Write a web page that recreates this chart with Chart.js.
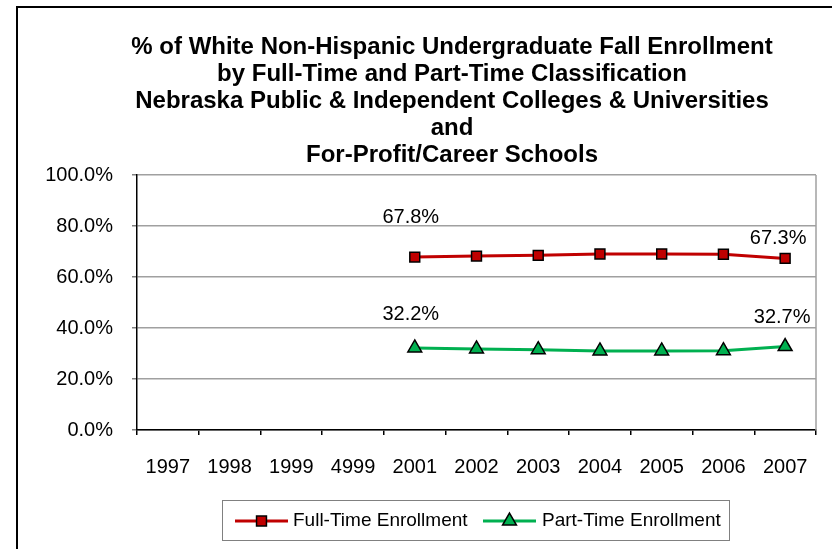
<!DOCTYPE html>
<html>
<head>
<meta charset="utf-8">
<script src="https://cdn.jsdelivr.net/npm/chart.js@4.4.0/dist/chart.umd.min.js"></script>
<style>
  html, body { margin: 0; padding: 0; background: #fff; overflow: hidden; }
  #wrap { position: relative; width: 832px; height: 549px; }
  #frame { position: absolute; left: 16px; top: 6px; width: 830px; height: 560px;
           border-left: 2px solid #000; border-top: 2px solid #000; }
  canvas { position: absolute; left: 0; top: 0; }
</style>
</head>
<body>
<div id="wrap">
  <div id="frame"></div>
  <canvas id="chart" width="832" height="549"></canvas>
</div>
<script>
const years = ['1997', '1998', '1999', '4999', '2001', '2002', '2003', '2004', '2005', '2006', '2007'];
const fullTime = [null, null, null, null, 67.8, 68.2, 68.5, 69.0, 69.0, 68.9, 67.3];
const partTime = [null, null, null, null, 32.2, 31.8, 31.5, 31.0, 31.0, 31.1, 32.7];
const yTicks = [0, 20, 40, 60, 80, 100];
const titleLines = [
  '% of White Non-Hispanic Undergraduate Fall Enrollment',
  'by Full-Time and Part-Time Classification',
  'Nebraska Public & Independent Colleges & Universities',
  'and',
  'For-Profit/Career Schools'
];
const seriesNames = ['Full-Time Enrollment', 'Part-Time Enrollment'];

const FONT = '"Liberation Sans", Arial, sans-serif';
const RED = '#c00000';
const GREEN = '#00b050';

// title, plot frame, end labels and legend
const extras = {
  id: 'extras',
  afterDraw(chart) {
    const ctx = chart.ctx;
    const area = chart.chartArea;
    ctx.save();

    // right border of plot area
    ctx.strokeStyle = '#a0a0a0';
    ctx.lineWidth = 1.5;
    ctx.beginPath();
    ctx.moveTo(area.right, area.top);
    ctx.lineTo(area.right, area.bottom);
    ctx.stroke();

    // title
    ctx.fillStyle = '#000';
    ctx.font = 'bold 24px ' + FONT;
    ctx.textAlign = 'center';
    ctx.textBaseline = 'middle';
    titleLines.forEach((t, i) => ctx.fillText(t, 452, 47 + i * 27));

    // labels on first and last points
    ctx.font = '20px ' + FONT;
    const offs = [[[-4, -40], [-7, -20]], [[-4, -33], [-3, -29]]];
    chart.data.datasets.forEach((ds, di) => {
      const meta = chart.getDatasetMeta(di);
      const idx = [];
      ds.data.forEach((v, i) => { if (v !== null) idx.push(i); });
      [idx[0], idx[idx.length - 1]].forEach((i, k) => {
        const p = meta.data[i];
        ctx.fillText(ds.data[i].toFixed(1) + '%', p.x + offs[di][k][0], p.y + offs[di][k][1]);
      });
    });

    // legend
    ctx.strokeStyle = '#808080';
    ctx.lineWidth = 1;
    ctx.strokeRect(222.5, 500.5, 507, 40);
    const items = [
      { x: 235, tx: 293, color: RED, style: 'rect', r: 7 },
      { x: 483, tx: 542, color: GREEN, style: 'triangle', r: 8 }
    ];
    const ly = 521;
    items.forEach((it, i) => {
      ctx.strokeStyle = it.color;
      ctx.lineWidth = 3;
      ctx.beginPath();
      ctx.moveTo(it.x, ly);
      ctx.lineTo(it.x + 53, ly);
      ctx.stroke();
      ctx.fillStyle = it.color;
      ctx.strokeStyle = '#000';
      ctx.lineWidth = 1.5;
      Chart.helpers.drawPoint(ctx, { pointStyle: it.style, radius: it.r, borderWidth: 1.5, rotation: 0 }, it.x + 26.5, ly);
      ctx.fillStyle = '#000';
      ctx.font = '19px ' + FONT;
      ctx.textAlign = 'left';
      ctx.fillText(seriesNames[i], it.tx, ly);
    });
    ctx.restore();
  }
};

new Chart(document.getElementById('chart'), {
  type: 'line',
  data: {
    labels: years,
    datasets: [
      {
        label: seriesNames[0],
        data: fullTime,
        borderColor: RED,
        backgroundColor: RED,
        borderWidth: 3,
        pointStyle: 'rect',
        pointRadius: 7,
        pointBorderColor: '#000',
        pointBorderWidth: 1.5,
        tension: 0
      },
      {
        label: seriesNames[1],
        data: partTime,
        borderColor: GREEN,
        backgroundColor: GREEN,
        borderWidth: 3,
        pointStyle: 'triangle',
        pointRadius: 8,
        pointBorderColor: '#000',
        pointBorderWidth: 1.5,
        tension: 0
      }
    ]
  },
  options: {
    responsive: false,
    animation: false,
    layout: { padding: { top: 175, right: 16, left: 0, bottom: 59 } },
    plugins: {
      legend: { display: false },
      title: { display: false },
      tooltip: { enabled: false }
    },
    scales: {
      x: {
        offset: true,
        grid: { offset: true, drawOnChartArea: false, tickLength: 5, color: '#000', lineWidth: 1.5 },
        border: { color: '#000', width: 1.5 },
        ticks: { color: '#000', font: { family: FONT, size: 20 }, padding: 20, maxRotation: 0, autoSkip: false },
        afterFit(scale) { scale.height = 60; }
      },
      y: {
        min: 0,
        max: 100,
        afterBuildTicks(scale) { scale.ticks = yTicks.map(v => ({ value: v })); },
        grid: { color: '#a0a0a0', lineWidth: 1.5, tickLength: 5, tickColor: '#808080' },
        border: { color: '#000', width: 1.5 },
        ticks: {
          color: '#000',
          font: { family: FONT, size: 20 },
          padding: 19,
          callback: v => v.toFixed(1) + '%'
        },
        afterFit(scale) { scale.width = 137; }
      }
    }
  },
  plugins: [extras]
});
</script>
</body>
</html>
